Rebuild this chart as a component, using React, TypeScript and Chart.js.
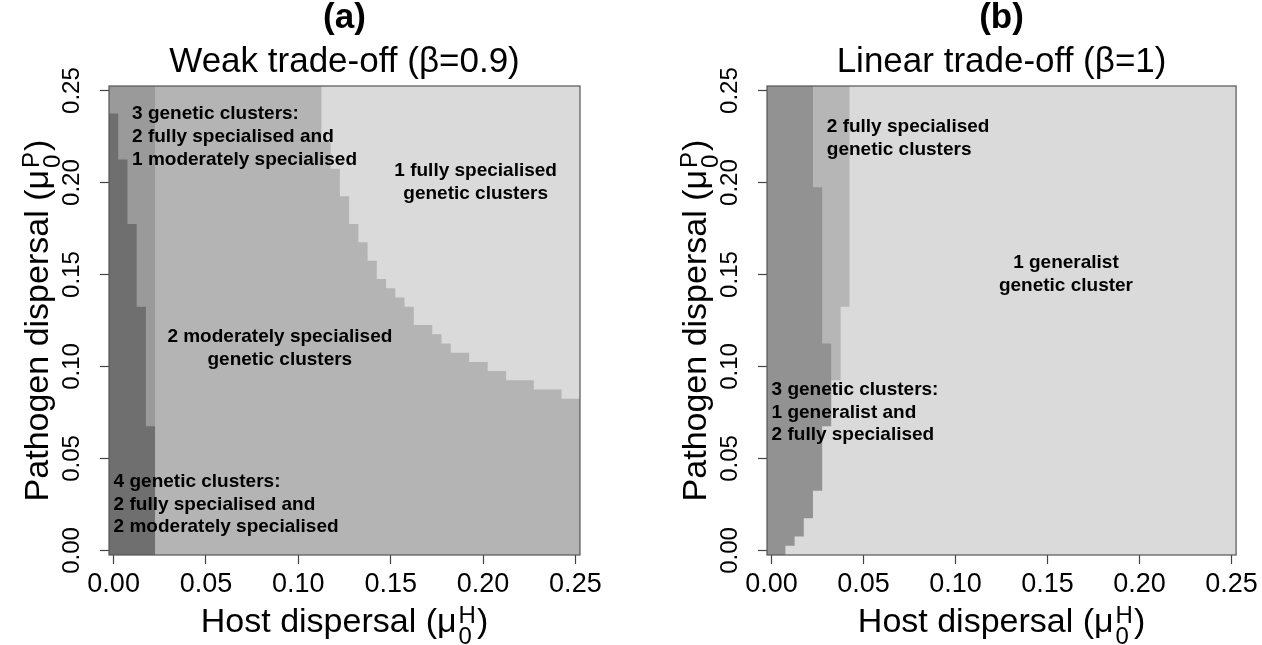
import React, { useEffect, useRef } from 'react';
import { Chart, registerables } from 'chart.js';

Chart.register(...registerables);

const FONT = '"Liberation Sans", Arial, Helvetica, sans-serif';

// ---------- axes ----------
const AXIS_MIN = -0.0025;
const AXIS_MAX = 0.2525;
const TICK_VALUES = [0, 0.05, 0.1, 0.15, 0.2, 0.25];
const TICK_LABELS = ['0.00', '0.05', '0.10', '0.15', '0.20', '0.25'];

// ---------- panel (a): weak trade-off, beta = 0.9 ----------
// each region: column edges (host dispersal) and the top of the region (pathogen dispersal) in each column
const A_LIGHT_EDGES = [-0.0025, 0.2525];
const A_LIGHT_TOPS = [0.2525];
const A_MID_EDGES = [-0.0025, 0.1125, 0.1175, 0.1225, 0.1275, 0.1325, 0.1375, 0.1425, 0.1475, 0.1525, 0.1575, 0.1625, 0.1725, 0.1775, 0.1825, 0.1925, 0.2025, 0.2125, 0.2275, 0.2425, 0.2525];
const A_MID_TOPS = [0.2525, 0.2225, 0.2075, 0.1925, 0.1775, 0.1675, 0.1575, 0.1475, 0.1425, 0.1375, 0.1325, 0.1225, 0.1175, 0.1125, 0.1075, 0.1025, 0.0975, 0.0925, 0.0875, 0.0825];
const A_THREE_EDGES = [-0.0025, 0.0225];
const A_THREE_TOPS = [0.2525];
const A_FOUR_EDGES = [-0.0025, 0.0025, 0.0075, 0.0125, 0.0175, 0.0225];
const A_FOUR_TOPS = [0.2375, 0.2125, 0.1775, 0.1325, 0.0675];

// ---------- panel (b): linear trade-off, beta = 1 ----------
const B_LIGHT_EDGES = [-0.0025, 0.2525];
const B_LIGHT_TOPS = [0.2525];
const B_MID_EDGES = [-0.0025, 0.0425];
const B_MID_TOPS = [0.2525];
const B_THREE_EDGES = [-0.0025, 0.0225, 0.0275, 0.0325];
const B_THREE_TOPS = [0.2525, 0.1975, 0.1125];
const B_LOWER_EDGES = [-0.0025, 0.0075, 0.0125, 0.0175, 0.0225, 0.0275, 0.0325, 0.0375, 0.0425, 0.0475];
const B_LOWER_TOPS = [-0.0025, 0.0025, 0.0075, 0.0175, 0.0325, 0.0675, 0.0925, 0.1325, 0.2525];

type Ann = { x: number; y: number; align: CanvasTextAlign; lines: string[] };

const A_LABELS: Ann[] = [
  { x: 0.01, y: 0.225, align: 'left', lines: ['3 genetic clusters:', '2 fully specialised and', '1 moderately specialised'] },
  { x: 0.0, y: 0.025, align: 'left', lines: ['4 genetic clusters:', '2 fully specialised and', '2 moderately specialised'] },
  { x: 0.09, y: 0.11, align: 'center', lines: ['2 moderately specialised', 'genetic clusters'] },
  { x: 0.196, y: 0.2, align: 'center', lines: ['1 fully specialised', 'genetic clusters'] },
];
const B_LABELS: Ann[] = [
  { x: 0.03, y: 0.224, align: 'left', lines: ['2 fully specialised', 'genetic clusters'] },
  { x: 0.16, y: 0.15, align: 'center', lines: ['1 generalist', 'genetic cluster'] },
  { x: 0.0, y: 0.075, align: 'left', lines: ['3 genetic clusters:', '1 generalist and', '2 fully specialised'] },
];

// ---------- styles ----------
const CANVAS_H = 645;
const Y_AXIS_W = 109;
const X_AXIS_H = 90;
const PAD_TOP = 86;

function stepPoints(edges: number[], tops: number[]) {
  const pts: { x: number; y: number }[] = [];
  for (let i = 0; i < tops.length; i++) pts.push({ x: edges[i], y: tops[i] });
  pts.push({ x: edges[edges.length - 1], y: tops[tops.length - 1] });
  return pts;
}

function layer(label: string, edges: number[], tops: number[], color: string, order: number) {
  return {
    label,
    data: stepPoints(edges, tops),
    backgroundColor: color,
    borderColor: 'rgba(0,0,0,0)',
    borderWidth: 0,
    pointRadius: 0,
    pointHoverRadius: 0,
    stepped: true,
    fill: 'start',
    order,
  };
}

function drawMath(ctx: CanvasRenderingContext2D, cx: number, cy: number, vertical: boolean, main: string, sub: string, sup: string) {
  ctx.save();
  ctx.translate(cx, cy);
  if (vertical) ctx.rotate(-Math.PI / 2);
  const big = `34px ${FONT}`;
  const small = `24px ${FONT}`;
  ctx.font = big;
  const wMain = ctx.measureText(main).width;
  const wClose = ctx.measureText(')').width;
  ctx.font = small;
  const wScript = Math.max(ctx.measureText(sub).width, ctx.measureText(sup).width);
  const total = wMain + wScript + 3 + wClose;
  let x = -total / 2;
  ctx.textAlign = 'left';
  ctx.textBaseline = 'alphabetic';
  ctx.fillStyle = '#000';
  ctx.font = big;
  ctx.fillText(main, x, 0);
  x += wMain + 2;
  ctx.font = small;
  ctx.fillText(sub, x, 12);
  ctx.fillText(sup, x, -9);
  x += wScript + 1;
  ctx.font = big;
  ctx.fillText(')', x, 0);
  ctx.restore();
}

function overlayPlugin(panel: string, title: string, labels: Ann[]) {
  return {
    id: 'overlay' + panel,
    afterDraw(chart: any) {
      const { ctx, chartArea: ca, scales } = chart;
      const xs = scales.x;
      const ys = scales.y;
      ctx.save();
      ctx.strokeStyle = '#555';
      ctx.lineWidth = 1.2;
      ctx.strokeRect(ca.left, ca.top, ca.right - ca.left, ca.bottom - ca.top);
      const cx = (ca.left + ca.right) / 2;
      ctx.fillStyle = '#000';
      ctx.textAlign = 'center';
      ctx.textBaseline = 'alphabetic';
      ctx.font = `bold 35px ${FONT}`;
      ctx.fillText(panel, cx, 28);
      ctx.font = `35px ${FONT}`;
      ctx.fillText(title, cx, 72);
      ctx.font = `bold 19px ${FONT}`;
      ctx.textBaseline = 'middle';
      for (const a of labels) {
        const px = xs.getPixelForValue(a.x);
        const py = ys.getPixelForValue(a.y);
        ctx.textAlign = a.align;
        a.lines.forEach((line, i) => {
          ctx.fillText(line, px, py + (i - (a.lines.length - 1) / 2) * 22.7);
        });
      }
      drawMath(ctx, cx, ca.bottom + 76.7, false, 'Host dispersal (\u03bc', '0', 'H');
      drawMath(ctx, 48, (ca.top + ca.bottom) / 2, true, 'Pathogen dispersal (\u03bc', '0', 'P');
      ctx.restore();
    },
  };
}

function makeConfig(datasets: any[], padRight: number, plugin: any) {
  const tickGrid = {
    display: true,
    drawOnChartArea: false,
    drawTicks: true,
    tickLength: 9,
    tickColor: '#444',
    tickWidth: 1.2,
  };
  return {
    type: 'line',
    data: { datasets },
    options: {
      animation: false,
      responsive: false,
      events: [],
      layout: { padding: { left: 0, right: padRight, top: PAD_TOP, bottom: 0 } },
      plugins: { legend: { display: false }, tooltip: { enabled: false }, title: { display: false } },
      scales: {
        x: {
          type: 'linear',
          min: AXIS_MIN,
          max: AXIS_MAX,
          afterBuildTicks: (s: any) => { s.ticks = TICK_VALUES.map((v) => ({ value: v })); },
          afterFit: (s: any) => { s.height = X_AXIS_H; },
          grid: tickGrid,
          border: { display: false },
          ticks: {
            autoSkip: false,
            maxRotation: 0,
            padding: 4,
            color: '#000',
            font: { family: FONT, size: 27 },
            callback: (_v: any, i: number) => TICK_LABELS[i],
          },
        },
        y: {
          type: 'linear',
          min: AXIS_MIN,
          max: AXIS_MAX,
          afterBuildTicks: (s: any) => { s.ticks = TICK_VALUES.map((v) => ({ value: v })); },
          afterFit: (s: any) => { s.width = Y_AXIS_W; },
          grid: tickGrid,
          border: { display: false },
          ticks: {
            autoSkip: false,
            minRotation: 90,
            maxRotation: 90,
            crossAlign: 'center',
            padding: 4,
            color: '#000',
            font: { family: FONT, size: 24 },
            callback: (_v: any, i: number) => TICK_LABELS[i],
          },
        },
      },
    },
    plugins: [plugin],
  };
}

function Panel({ left, width, config }: { left: number; width: number; config: any }) {
  const ref = useRef<HTMLCanvasElement>(null);
  useEffect(() => {
    const chart = new Chart(ref.current as HTMLCanvasElement, config);
    return () => chart.destroy();
  }, []);
  return (
    <canvas
      ref={ref}
      width={width}
      height={CANVAS_H}
      style={{ position: 'absolute', left, top: 0, width, height: CANVAS_H }}
    />
  );
}

export default function App() {
  const configA = makeConfig(
    [
      layer('1 fully specialised', A_LIGHT_EDGES, A_LIGHT_TOPS, '#dadada', 4),
      layer('2 moderately specialised', A_MID_EDGES, A_MID_TOPS, '#b4b4b4', 3),
      layer('3 genetic clusters', A_THREE_EDGES, A_THREE_TOPS, '#9a9a9a', 2),
      layer('4 genetic clusters', A_FOUR_EDGES, A_FOUR_TOPS, '#6f6f6f', 1),
    ],
    658 - 580,
    overlayPlugin('(a)', 'Weak trade-off (\u03b2=0.9)', A_LABELS)
  );
  const configB = makeConfig(
    [
      layer('1 generalist', B_LIGHT_EDGES, B_LIGHT_TOPS, '#dadada', 4),
      layer('2 fully specialised', B_MID_EDGES, B_MID_TOPS, '#b6b6b6', 3),
      layer('3 genetic clusters', B_THREE_EDGES, B_THREE_TOPS, '#929292', 2),
      layer('1 generalist (lower)', B_LOWER_EDGES, B_LOWER_TOPS, '#dadada', 1),
    ],
    604 - 581,
    overlayPlugin('(b)', 'Linear trade-off (\u03b2=1)', B_LABELS)
  );
  return (
    <div style={{ position: 'fixed', left: 0, top: 0, width: 1262, height: 645, background: '#fff' }}>
      <Panel left={0} width={658} config={configA} />
      <Panel left={658} width={604} config={configB} />
    </div>
  );
}
